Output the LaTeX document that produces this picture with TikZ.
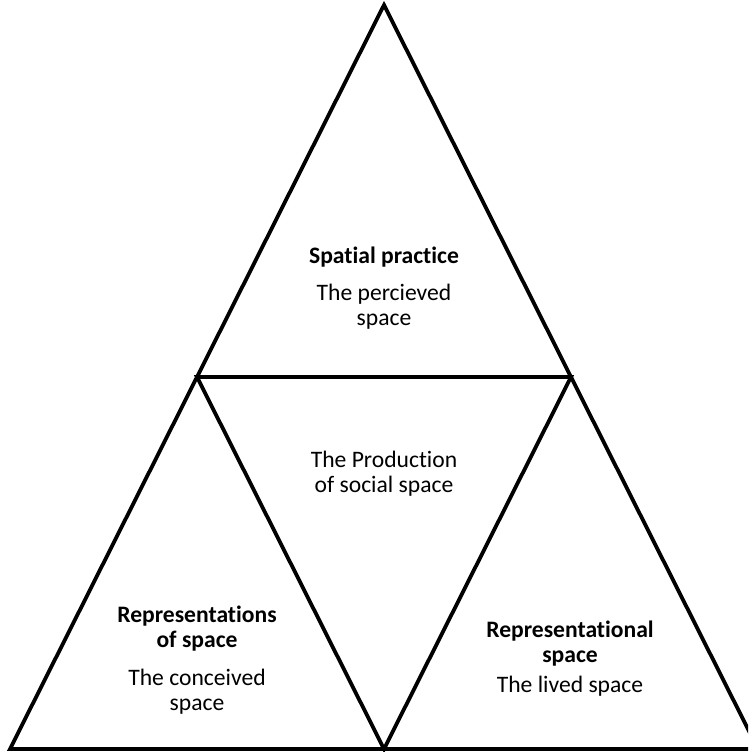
\documentclass[tikz,border=0pt]{standalone}
\usepackage{fontspec}
\setmainfont{Carlito}[Ligatures=NoCommon]
\usepackage{tikz}
\usetikzlibrary{calc}

\begin{document}
\begin{tikzpicture}[x=1pt, y=-1pt, line width=3.8pt, line join=miter,
    every node/.style={anchor=base, inner sep=0pt, font=\fontsize{23.6}{25}\selectfont},
    head/.style={font=\fontsize{23.6}{25}\selectfont\bfseries}]
    % Frame
    \useasboundingbox (0,0) rectangle (748,752);
    \clip (0,0) rectangle (748,752);

    % Corners of the big triangle
    \coordinate (top) at (384,5);
    \coordinate (left) at (10,749);
    \coordinate (right) at (758,749);

    % Midpoints of its sides
    \coordinate (midL) at ($(top)!0.5!(left)$);
    \coordinate (midR) at ($(top)!0.5!(right)$);
    \coordinate (midB) at ($(left)!0.5!(right)$);

    % Triangles
    \draw (top) -- (left) -- (right) -- cycle;
    \draw (midL) -- (midR) -- (midB) -- cycle;

    % Headings
    \node[head] (pracHead) at (384,263) {Spatial practice};
    \node[head] (reprHeadA) at (197,622) {Representations};
    \node[head] (reprHeadB) at (197,647) {of space};
    \node[head] (livedHeadA) at (570,637) {Representational};
    \node[head] (livedHeadB) at (570,662) {space};

    % Descriptions
    \node (pracSubA) at (384,300) {The percieved};
    \node (pracSubB) at (384,325) {space};
    \node (prodA) at (384,467) {The Production};
    \node (prodB) at (384,492) {of social space};
    \node (reprSubA) at (197,685) {The conceived};
    \node (reprSubB) at (197,710) {space};
    \node (livedSub) at (570,692) {The lived space};
\end{tikzpicture}
\end{document}
